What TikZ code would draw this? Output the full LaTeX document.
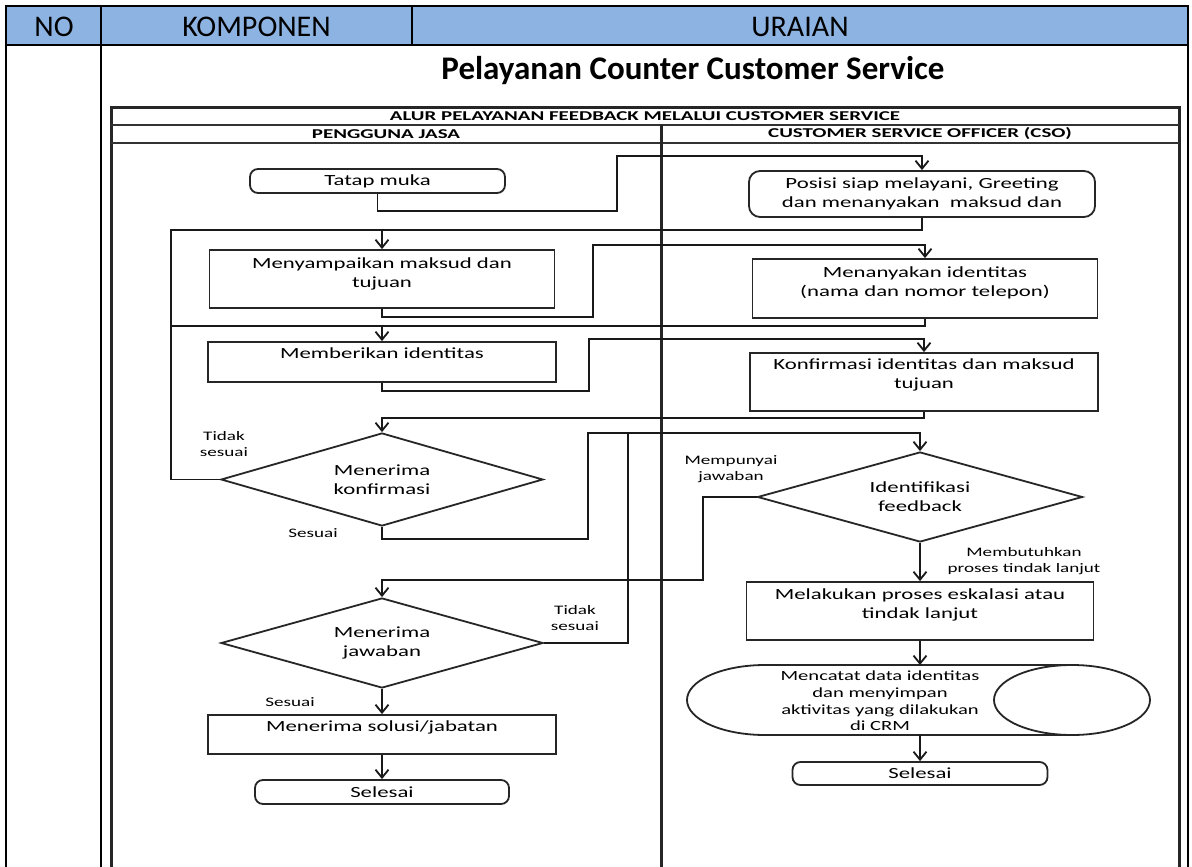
\documentclass[tikz,border=0pt]{standalone}
\usepackage{fontspec}
\setmainfont{Carlito}
\newfontfamily\flowfont[FakeStretch=1.47]{Carlito}
\newfontfamily\headfont[FakeStretch=1.55]{Carlito}
\usetikzlibrary{arrows.meta,shapes.geometric}
\definecolor{headblue}{RGB}{141,179,226}
\newcommand\flowtext{\flowfont\fontsize{15.5pt}{19pt}\selectfont}
\newcommand\flowsmall{\flowfont\fontsize{13pt}{15.5pt}\selectfont}
\newcommand\flowcrm{\flowfont\fontsize{14pt}{16.6pt}\selectfont}
\newcommand\lanehead{\headfont\bfseries\fontsize{13.5pt}{16pt}\selectfont}
\begin{document}
\begin{tikzpicture}[x=1pt,y=-1pt,
  tableline/.style={line width=2pt,draw=black},
  frameline/.style={line width=3pt,draw=black!85},
  thinframe/.style={line width=1.6pt,draw=black!80},
  procbox/.style={draw=black!85,line width=1.8pt,rectangle,inner sep=0pt,align=center,font=\flowtext},
  termbox/.style={procbox,rounded corners=8pt},
  decision/.style={draw=black!85,line width=1.8pt,diamond,shape aspect=3.5,inner sep=0pt,align=center,font=\flowtext},
  flow/.style={line width=1.8pt,draw=black!90,-{Straight Barb[length=8pt,width=13pt]}},
  link/.style={line width=1.8pt,draw=black!90},
  lbl/.style={align=center,font=\flowsmall,inner sep=0pt},
  heading/.style={inner sep=0pt,anchor=base}]

\path[use as bounding box] (0,0) rectangle (1192,867);
\clip (0,0) rectangle (1192,867);
\fill[white] (0,0) rectangle (1192,867);

% ---- table header and cells
\fill[headblue] (6,6) rectangle (1188,45);
\draw[tableline] (6,880) -- (6,6) -- (1188,6) -- (1188,880);
\draw[tableline] (6,45) -- (1188,45);
\draw[tableline] (101,6) -- (101,880);
\draw[tableline] (412,6) -- (412,45);
\node[heading,font=\fontsize{30pt}{36pt}\selectfont] (hno) at (54,37) {NO};
\node[heading,font=\fontsize{30pt}{36pt}\selectfont] (hkomp) at (256.5,37) {KOMPONEN};
\node[heading,font=\fontsize{30pt}{36pt}\selectfont] (hurai) at (800,37) {URAIAN};
\node[heading,font=\bfseries\fontsize{33pt}{38pt}\selectfont] (title) at (693,80) {Pelayanan Counter Customer Service};

% ---- swimlane frame
\draw[frameline] (111,880) -- (111,107) -- (1179,107) -- (1179,880);
\draw[thinframe] (111,125) -- (1179,125);
\draw[thinframe] (111,143) -- (1179,143);
\draw[frameline] (661,125) -- (661,880);
\node[inner sep=0pt,font=\lanehead] (alur) at (645,116) {ALUR PELAYANAN FEEDBACK MELALUI CUSTOMER SERVICE};
\node[inner sep=0pt,font=\lanehead] (lanepj) at (386,134) {PENGGUNA JASA};
\node[inner sep=0pt,font=\lanehead] (lanecso) at (920,134) {CUSTOMER SERVICE OFFICER (CSO)};

% ---- Pengguna Jasa lane
\node[termbox,minimum width=255,minimum height=24] (tatap) at (377.5,181) {Tatap muka};
\node[procbox,minimum width=345,minimum height=58,text depth=12pt] (menyamp) at (382,279) {Menyampaikan maksud dan\\tujuan};
\node[procbox,minimum width=348,minimum height=40,text depth=18pt] (memberi) at (382,362) {Memberikan identitas};
\node[decision,minimum width=322,minimum height=93] (konf) at (382,479.5) {Menerima\\konfirmasi};
\node[decision,minimum width=322,minimum height=90] (jawab) at (382,643) {Menerima\\jawaban};
\node[procbox,minimum width=348,minimum height=39,text depth=16pt] (solusi) at (382,734.5) {Menerima solusi/jabatan};
\node[termbox,minimum width=254,minimum height=24] (selesaiL) at (382,792) {Selesai};

% ---- CSO lane
\node[termbox,rounded corners=11pt,minimum width=346,minimum height=46] (posisi) at (922,194) {Posisi siap melayani, Greeting\\dan menanyakan\ \ maksud dan};
\node[procbox,minimum width=345,minimum height=59,text depth=14pt] (tanya) at (925,288.5) {Menanyakan identitas\\(nama dan nomor telepon)};
\node[procbox,minimum width=348,minimum height=58,text depth=16pt] (konfirm) at (924,382) {Konfirmasi identitas dan maksud\\tujuan};
\node[decision,minimum width=325,minimum height=90] (ident) at (920,497) {Identifikasi\\feedback};
\node[procbox,minimum width=347,minimum height=58,text depth=14pt] (eskal) at (920,611) {Melakukan proses eskalasi atau\\tindak lanjut};
\node[align=center,font=\flowcrm,inner sep=0pt,minimum height=70] (crm) at (880,701) {Mencatat data identitas\\dan menyimpan\\aktivitas yang dilakukan\\di CRM};
\node[termbox,minimum width=255,minimum height=23] (selesaiR) at (920,773.5) {Selesai};

% data store drawn as a horizontal cylinder
\draw[draw=black!85,line width=1.8pt] (1072,665) -- (765,665)
  arc[start angle=270,end angle=90,x radius=78,y radius=35] -- (1072,735);
\draw[draw=black!85,line width=1.8pt] (1072,700) ellipse[x radius=78,y radius=35];

% ---- connectors
\draw[flow] (tatap.south) |- (617,211) |- (922,156) -- (posisi.north);
\draw[flow] (posisi.south) |- (382,230) -- (menyamp.north);
\draw[flow] (menyamp.south) |- (593,317) |- (925,245) -- (tanya.north);
\draw[flow] (tanya.south) |- (382,326) -- (memberi.north);
\draw[flow] (memberi.south) |- (589,391) |- (924,339) -- (konfirm.north);
\draw[flow] (konfirm.south) |- (382,418) -- (konf.north);
\draw[link] (konf.west) -| (171,230) -- (382,230);
\draw[link] (171,326) -- (382,326);
\draw[flow] (konf.south) |- (588,539) |- (920,433) -- (ident.north);
\draw[link] (jawab.east) -| (628,433);
\draw[flow] (ident.west) -| (703,580) -| (jawab.north);
\draw[flow] (ident.south) -- (eskal.north);
\draw[flow] (eskal.south) -- (eskal.south |- 0,665);
\draw[flow] (selesaiR.north |- 0,735) -- (selesaiR.north);
\draw[flow] (jawab.south) -- (solusi.north);
\draw[flow] (solusi.south) -- (selesaiL.north);

% ---- branch labels
\node[lbl] (tsA) at (224,444) {Tidak\\sesuai};
\node[lbl] (ssA) at (313,533) {Sesuai};
\node[lbl] (tsB) at (575,618) {Tidak\\sesuai};
\node[lbl] (mj) at (731,469) {Mempunyai\\jawaban};
\node[lbl] (mb) at (1024,561) {Membutuhkan\\proses tindak lanjut};
\node[lbl] (ssB) at (290,702) {Sesuai};
\end{tikzpicture}
\end{document}
